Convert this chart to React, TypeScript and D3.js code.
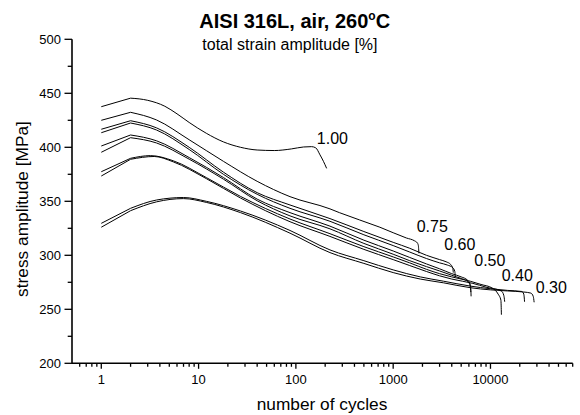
import React from "react";
import * as d3 from "d3";

// ---- data (cycles, stress amplitude MPa) ----
const s100: [number, number][] = [[1,437.6],[2,445.5],[3,443.5],[4.5,438],[6,431],[8,423],[12,413],[18,405],[27,400],[40,397.5],[60,397],[90,398.5],[120,400.3],[145,400.6],[160,399.5],[177,393],[192,387],[207,380.5]];
const s075: [number, number][] = [[1,425],[2,432.4],[3.7,425.3],[8,407],[18,387],[40,368.5],[87,354.3],[224,343],[280,339.5],[730,326],[1370,316],[1650,313.5],[1770,311.5],[1815,309],[1830,305],[1840,301.8]];
const s060a: [number, number][] = [[1,416.7],[2,424.6],[3.7,418],[8,400],[18,377],[40,358],[87,346.6],[224,334],[500,322],[1000,312],[1480,306.5],[2200,300],[3000,296],[3500,294],[3900,291.5],[4100,288],[4150,284]];
const s060b: [number, number][] = [[1,413.5],[2,422.5],[3.7,416],[8,398],[18,375],[40,356.5],[87,343.5],[224,331.5],[500,319],[1000,309],[1480,303],[2200,297],[3000,293],[3600,291],[4100,288.5],[4300,285],[4350,280]];
const s050a: [number, number][] = [[1,401.2],[2,411.4],[3.7,406],[8,390.5],[18,372],[40,352],[87,339.5],[224,327],[500,314],[1000,304],[1480,298],[2200,292],[3000,287.5],[4000,283],[5000,280],[5800,277],[6200,273],[6300,266],[6320,262]];
const s050b: [number, number][] = [[1,395.4],[2,408.9],[3.7,404],[8,389],[18,370.5],[40,350.5],[87,336.5],[224,324.5],[500,311],[1000,301],[1480,295],[2200,289.5],[3000,285.5],[4000,281.5],[5000,278.5],[5900,275.5],[6200,271],[6280,266]];
const s040a: [number, number][] = [[1,377.4],[2,389.8],[3.2,392.3],[5.5,387.5],[12,372],[27,354.5],[87,333.6],[224,320],[500,308],[1000,298.5],[1480,293],[2200,287],[3000,283],[4000,280],[6200,276],[8000,273],[10500,269.5],[12000,264],[12800,258.5],[12950,245]];
const s040b: [number, number][] = [[1,373.4],[2,388.9],[3.5,391.5],[5.5,386.5],[12,371],[27,353],[87,331.1],[224,317.5],[500,305.5],[1000,296],[1480,290.5],[2200,285],[3000,281],[4000,278],[6600,274],[9000,270.5],[12900,267],[13700,263],[14000,257]];
const s030a: [number, number][] = [[1,329.6],[2,343.5],[3.7,351.2],[7,353.5],[12,350],[27,341],[87,323],[224,305],[500,295],[1000,286.5],[1900,280],[3300,276],[6200,271.5],[10000,269],[15000,267.5],[21000,266.5],[22000,264],[22400,257]];
const s030b: [number, number][] = [[1,326],[2,341.3],[3.7,349.5],[7,352.5],[12,349],[27,339.5],[87,320.5],[224,302.5],[500,292.5],[1000,284],[1900,278],[3300,274.5],[6200,270],[10000,268],[15000,267],[22000,266],[26000,265],[27500,262],[28100,256.5]];
const curves = [s100, s075, s060a, s060b, s050a, s050b, s040a, s040b, s030a, s030b];

const curveLabels = ["1.00", "0.75", "0.60", "0.50", "0.40", "0.30"];
const labelAnchors: [number, number][] = [[164, 403], [1743, 321.3], [3350, 304.9], [6810, 290.4], [13030, 276.2], [29150, 265.4]];

const xDomain: [number, number] = [0.5, 70000];
const yDomain: [number, number] = [200, 500];
const xMajor = [1, 10, 100, 1000, 10000];
const yMajor = [200, 250, 300, 350, 400, 450, 500];
const yMinor = [225, 275, 325, 375, 425, 475];

const FONT = "'Liberation Sans', Arial, Helvetica, sans-serif";

export default function App() {
  const left = 72, right = 572.7, top = 39.3, bottom = 363.3;
  const x = d3.scaleLog().domain(xDomain).range([left, right]);
  const y = d3.scaleLinear().domain(yDomain).range([bottom, top]);

  const xMinor: number[] = [];
  for (let p = -1; p <= 4; p++) {
    for (let m = 2; m <= 9; m++) {
      const v = m * Math.pow(10, p);
      if (v > xDomain[0] && v <= xDomain[1] + 1e-6) xMinor.push(v);
    }
  }

  const lin = d3.line<[number, number]>().x((d) => x(d[0])).y((d) => y(d[1])).curve(d3.curveLinear);
  const smooth = d3.line<[number, number]>().x((d) => x(d[0])).y((d) => y(d[1])).curve(d3.curveMonotoneX);
  const pathFor = (pts: [number, number][]) => (lin(pts.slice(0, 2)) || "") + (smooth(pts.slice(1)) || "");

  return (
    <div>
      <style>{"body{margin:0}"}</style>
      <svg width={580} height={415} style={{ display: "block", background: "#fff" }} fontFamily={FONT}>
        <text x={199.3} y={28.3} fontSize={20} fontWeight="bold" fill="#000">
          AISI 316L, air, 260<tspan fontSize={12} dy={-8}>o</tspan><tspan dy={8}>C</tspan>
        </text>
        <text x={202.3} y={50} fontSize={16} fill="#000">total strain amplitude [%]</text>

        {curves.map((c, i) => (
          <path key={i} d={pathFor(c)} fill="none" stroke="#000" strokeWidth={1} strokeLinejoin="round" />
        ))}

        {curveLabels.map((t, i) => (
          <text key={t} x={x(labelAnchors[i][0])} y={y(labelAnchors[i][1])} fontSize={16} fill="#000">{t}</text>
        ))}

        {/* y axis */}
        <line x1={left} x2={left} y1={top} y2={bottom} stroke="#000" strokeWidth={1.6} />
        {yMajor.map((v) => (
          <g key={"ym" + v}>
            <line x1={left - 7.5} x2={left} y1={y(v)} y2={y(v)} stroke="#000" strokeWidth={1.3} />
            <text x={61} y={y(v)} dy="0.36em" textAnchor="end" fontSize={13}>{v}</text>
          </g>
        ))}
        {yMinor.map((v) => (
          <line key={"yn" + v} x1={left - 4.3} x2={left} y1={y(v)} y2={y(v)} stroke="#000" strokeWidth={1.3} />
        ))}

        {/* x axis */}
        <line x1={left} x2={right} y1={bottom} y2={bottom} stroke="#000" strokeWidth={1.6} />
        {xMajor.map((v) => (
          <g key={"xm" + v}>
            <line x1={x(v)} x2={x(v)} y1={bottom} y2={bottom + 5.5} stroke="#000" strokeWidth={1.3} />
            <text x={x(v)} y={384} textAnchor="middle" fontSize={13}>{v}</text>
          </g>
        ))}
        {xMinor.map((v) => (
          <line key={"xn" + v} x1={x(v)} x2={x(v)} y1={bottom} y2={bottom + 3.5} stroke="#000" strokeWidth={1.3} />
        ))}

        <text x={322} y={409.5} textAnchor="middle" fontSize={17.3}>number of cycles</text>
        <text transform="translate(28,209) rotate(-90)" textAnchor="middle" fontSize={17.3}>stress amplitude [MPa]</text>
      </svg>
    </div>
  );
}
